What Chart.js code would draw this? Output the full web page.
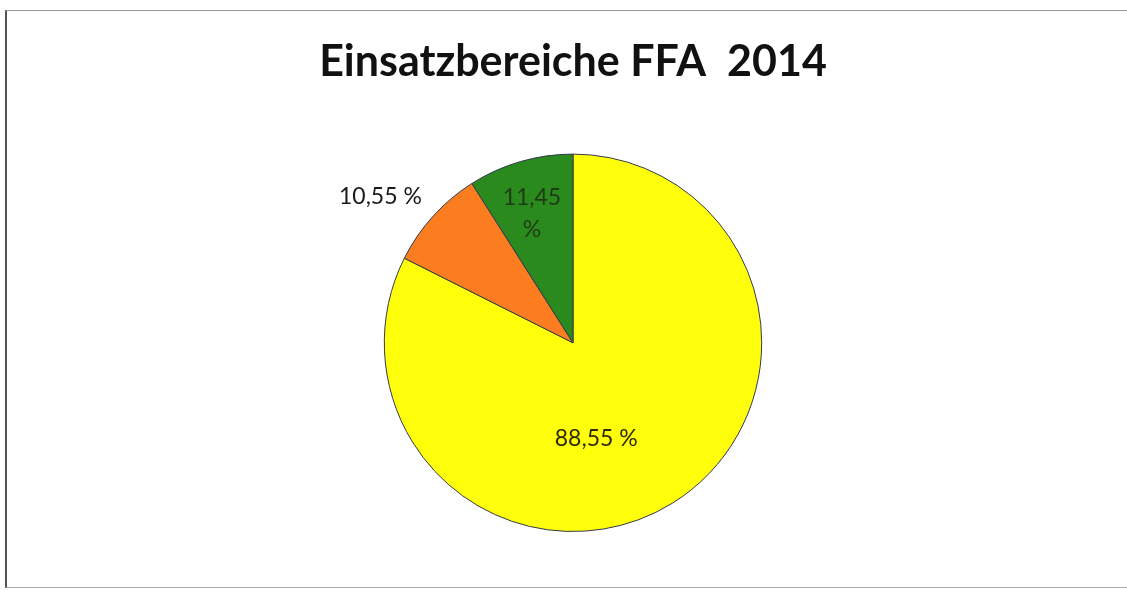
<!DOCTYPE html>
<html>
<head>
<meta charset="utf-8">
<script src="https://cdn.jsdelivr.net/npm/chart.js@4"></script>
<style>
  html,body{margin:0;padding:0;background:#fff;overflow:hidden}
  #frame{position:absolute;left:5px;top:10px;width:1136px;height:578px;
    border-left:2px solid #555;border-top:1px solid #999;border-bottom:1px solid #aaa;box-sizing:border-box}
  #wrap{position:absolute;left:5px;top:10px;width:1136px;height:578px}
</style>
</head>
<body>
<div id="frame"></div>
<div id="wrap"><canvas id="pie"></canvas></div>
<script>
const sliceLabels=[['88,55 %'],['10,55 %'],['11,45','%']];
const sliceValues=[82.4,8.6,9.0];
const sliceColors=['#ffff0c','#fb7d1f','#2b8a1d'];
const labelColors=['#2e2a08','#1a1a1a','#1e3c14'];
// label placement: radius factor + angle shift (deg) relative to slice middle
const labelPlace=[{r:0.52,da:18},{r:1.28,da:-5},{r:0.72,da:-1.4}];

// ── Pie labels plugin ──
const pieLabels={
  id:'pieLabels',
  afterDatasetsDraw(chart){
    const ctx=chart.ctx;
    const meta=chart.getDatasetMeta(0);
    ctx.save();
    ctx.font='23px Lato';
    ctx.textAlign='center';ctx.textBaseline='middle';
    meta.data.forEach((arc,i)=>{
      const p=arc.getProps(['x','y','startAngle','endAngle','outerRadius'],true);
      const mid=(p.startAngle+p.endAngle)/2+labelPlace[i].da*Math.PI/180;
      const rr=p.outerRadius*labelPlace[i].r;
      const x=p.x+Math.cos(mid)*rr, y=p.y+Math.sin(mid)*rr;
      const lines=sliceLabels[i];
      ctx.fillStyle=labelColors[i];
      lines.forEach((l,j)=>ctx.fillText(l,x,y+(j-(lines.length-1)/2)*32));
    });
    ctx.restore();
  }
};

new Chart(document.getElementById('pie'),{
  type:'pie',
  data:{labels:sliceLabels.map(l=>l.join(' ')),datasets:[{data:sliceValues,backgroundColor:sliceColors,borderColor:'#34394f',borderWidth:1}]},
  options:{
    responsive:true,maintainAspectRatio:false,animation:false,
    layout:{padding:{top:0,bottom:56,left:0,right:0}},
    plugins:{
      legend:{display:false},tooltip:{enabled:false},
      title:{display:true,text:'Einsatzbereiche FFA  2014',color:'#111',
        font:{family:'Lato',size:43,weight:'bold',lineHeight:1.2},padding:{top:26,bottom:66}}
    }
  },
  plugins:[pieLabels]
});
</script>
</body>
</html>
